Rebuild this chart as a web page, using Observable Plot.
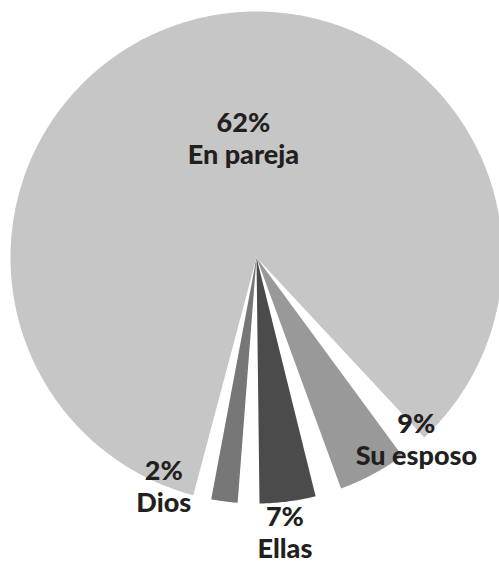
<!DOCTYPE html>
<html><head><meta charset="utf-8">
<script src="https://cdn.jsdelivr.net/npm/d3@7"></script>
<script src="https://cdn.jsdelivr.net/npm/@observablehq/plot@0.6"></script>
<style>html,body{margin:0;padding:0;background:#fff}svg{display:block}</style>
</head><body><div id="chart"></div>
<script>
// Data (clockwise order starting after the big slice)
const categories = ["Su esposo", "Ellas", "Dios", "En pareja"];
const percents = [9, 7, 2, 62];
// angular extent each slice takes in the drawing, degrees
const sliceDegrees = [16.2, 13.2, 6.2, 302.1];
// white gap preceding each slice, degrees
const gapDegrees = [6.7, 6.2, 5.1, 4.3];
const startDegree = 137; // clockwise from 12 o'clock

// Styles / layout
const colors = ["#999999", "#4b4b4b", "#777777", "#c6c6c6"];
const R = 246;
const labelAngle = [142.4, 174.6, 200.0, 352.0];
const labelRadius = [262, 302, 271, 94];

const rad = d => d * Math.PI / 180;
const slices = [];
let a = startDegree;
categories.forEach((c, i) => {
  a += gapDegrees[i];
  const a0 = a, a1 = a + sliceDegrees[i];
  a = a1;
  const n = Math.max(2, Math.ceil((a1 - a0) / 0.5));
  slices.push({cat: c, x: 0, y: 0});
  for (let k = 0; k <= n; k++) {
    const t = rad(a0 + (a1 - a0) * k / n);
    slices.push({cat: c, x: R * Math.sin(t), y: R * Math.cos(t)});
  }
  slices.push({cat: c, x: 0, y: 0});
});

const labels = categories.map((c, i) => ({
  text: `${percents[i]}%\n${c}`,
  x: labelRadius[i] * Math.sin(rad(labelAngle[i])),
  y: labelRadius[i] * Math.cos(rad(labelAngle[i]))
}));

const chart = Plot.plot({
  width: 499,
  height: 566,
  margin: 0,
  x: {domain: [-256, 243], range: [0, 499], axis: null},
  y: {domain: [-309, 257], range: [566, 0], axis: null},
  color: {domain: categories, range: colors},
  style: {background: "#fff"},
  marks: [
    Plot.line(slices, {x: "x", y: "y", z: "cat", fill: "cat", stroke: "none", curve: "linear"}),
    Plot.text(labels, {
      x: "x", y: "y", text: "text",
      lineAnchor: "bottom", lineHeight: 1.2,
      fontSize: 27, fontWeight: 900, fontFamily: "Lato",
      fill: "#231f20", textAnchor: "middle"
    })
  ]
});
document.getElementById("chart").appendChild(chart);
</script>
</body></html>
